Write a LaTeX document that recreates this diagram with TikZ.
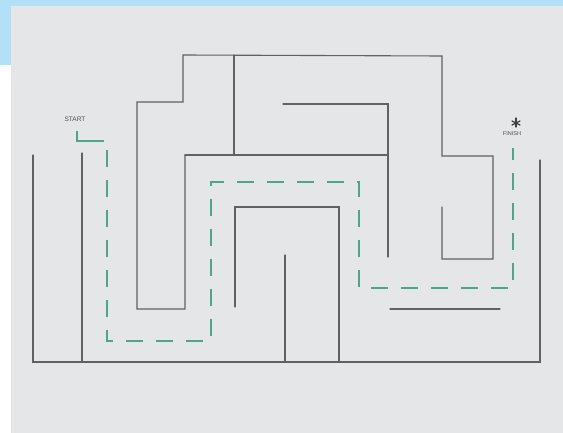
\documentclass[tikz,border=0pt]{standalone}
\usepackage{fontspec}
\setmainfont{Liberation Sans}
\begin{document}
\begin{tikzpicture}[x=1pt,y=-1pt,
  wall/.style={draw=black!62, line width=1.1pt, line cap=round, line join=miter},
  route/.style={draw=routegreen, line width=2.3pt, dash pattern=on 17pt off 13pt},
  lbl/.style={font=\fontsize{6.5}{6.5}\selectfont, text=black!70, inner sep=0pt},
  starline/.style={draw=black!75, line width=1.2pt, line cap=round}]
\definecolor{routegreen}{RGB}{78,165,138}
\definecolor{paper}{RGB}{228,230,232}
\definecolor{bandblue}{RGB}{178,225,247}
\useasboundingbox (0,0) rectangle (563,433);
\fill[white] (0,0) rectangle (563,433);
\fill[paper] (11,6) rectangle (563,433);
\fill[bandblue] (0,0) rectangle (563,6);
\fill[bandblue] (0,0) rectangle (11,65);
% outer walls
\draw[wall] (33,155) -- (33,362) -- (540,362) -- (540,160);
\draw[wall] (82,153) -- (82,362);
% upper left block
\draw[wall] (185,155) -- (185,309) -- (137,309) -- (137,102) -- (183,102) -- (183,55) -- (442,56) -- (442,156) -- (493,156) -- (493,259) -- (442,259) -- (442,207);
\draw[wall] (234,55) -- (234,155);
\draw[wall] (185,155) -- (388,155);
\draw[wall] (283,104) -- (388,104) -- (388,257);
% inner U
\draw[wall] (235,307) -- (235,207) -- (339,207) -- (339,362);
\draw[wall] (285,255) -- (285,362);
\draw[wall] (390,309) -- (500,309);
% labels
\node[lbl] (start) at (75,119) {START};
\node[lbl, font=\fontsize{5.5}{5.5}\selectfont] (finish) at (512,134) {FINISH};
% asterisk
\coordinate (star) at (516,123);
\draw[starline] ([shift={(0,-5)}]star) -- ([shift={(0,4)}]star);
\draw[starline] ([shift={(-4,-2)}]star) -- ([shift={(4,2)}]star);
\draw[starline] ([shift={(-4,2)}]star) -- ([shift={(4,-2)}]star);
% route
\coordinate (s0) at (77,131);
\coordinate (s1) at (77,141);
\coordinate (s2) at (104,141);
\draw[draw=routegreen, line width=2pt] (s0) -- (s1) -- (s2);
\draw[route] (107,150) -- (107,341) -- (211,341) -- (211,182) -- (359,182) -- (359,288) -- (513,288) -- (513,148);
\end{tikzpicture}
\end{document}
